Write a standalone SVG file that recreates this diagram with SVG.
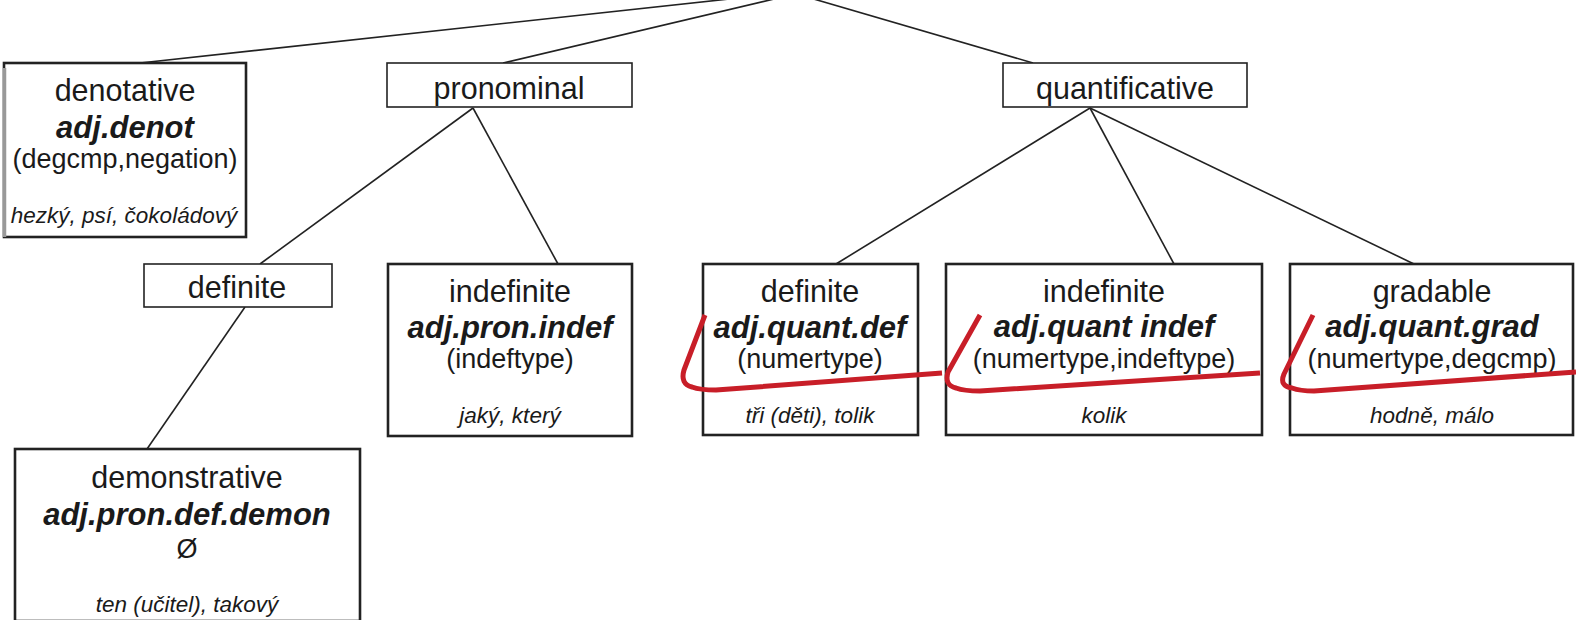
<svg xmlns="http://www.w3.org/2000/svg" width="1576" height="620" viewBox="0 0 1576 620">
<style>
.big{fill:#fff;stroke:#222;stroke-width:2.6}
.small{fill:#fff;stroke:#222;stroke-width:1.6}
.edge{stroke:#222;stroke-width:1.6;fill:none}
text{font-family:"Liberation Sans",Arial,sans-serif;fill:#1a1a1a;text-anchor:middle}
.t{font-size:30.5px}
.b{font-size:31px;font-weight:bold;font-style:italic}
.p{font-size:27px}
.e{font-size:22.5px;font-style:italic}
.red{stroke:#c81e28;stroke-width:5;fill:none;stroke-linecap:butt;stroke-linejoin:round}
</style>
<rect width="1576" height="620" fill="#fff"/>
<g id="connectors">
<line class="edge" x1="140" y1="63" x2="766" y2="-5"/>
<line class="edge" x1="503" y1="63" x2="791" y2="-5"/>
<line class="edge" x1="1033" y1="63" x2="800" y2="-5"/>
<line class="edge" x1="473" y1="108" x2="260" y2="264"/>
<line class="edge" x1="473" y1="108" x2="558" y2="264"/>
<line class="edge" x1="245" y1="307" x2="147" y2="449"/>
<line class="edge" x1="1090" y1="108" x2="836" y2="264"/>
<line class="edge" x1="1090" y1="108" x2="1174" y2="264"/>
<line class="edge" x1="1090" y1="108" x2="1414" y2="264"/>
</g>
<g id="denotative">
<rect class="big" x="4" y="63" width="242" height="174"/>
<line x1="4.5" y1="68" x2="4.5" y2="237" stroke="#999" stroke-width="3.5"/>
<text class="t" x="125" y="101">denotative</text>
<text class="b" x="125" y="138">adj.denot</text>
<text class="p" x="125" y="168">(degcmp,negation)</text>
<text class="e" x="124" y="223">hezký, psí, čokoládový</text>
</g>
<g id="pronominal">
<rect class="small" x="387" y="63" width="245" height="44"/>
<text class="t" x="509" y="99">pronominal</text>
</g>
<g id="quantificative">
<rect class="small" x="1003" y="63" width="244" height="44"/>
<text class="t" x="1125" y="99">quantificative</text>
</g>
<g id="pron-definite">
<rect class="small" x="144" y="264" width="188" height="43"/>
<text class="t" x="237" y="298">definite</text>
</g>
<g id="demonstrative">
<rect class="big" x="15" y="449" width="345" height="172"/>
<text class="t" x="187" y="488">demonstrative</text>
<text class="b" x="187" y="525">adj.pron.def.demon</text>
<text class="p" x="187" y="558">Ø</text>
<text class="e" x="187" y="612">ten (učitel), takový</text>
</g>
<g id="pron-indefinite">
<rect class="big" x="388" y="264" width="244" height="172"/>
<text class="t" x="510" y="302">indefinite</text>
<text class="b" x="510" y="338">adj.pron.indef</text>
<text class="p" x="510" y="368">(indeftype)</text>
<text class="e" x="510" y="423">jaký, který</text>
</g>
<g id="quant-definite">
<rect class="big" x="703" y="264" width="215" height="171"/>
<text class="t" x="810" y="302">definite</text>
<text class="b" x="810" y="338">adj.quant.def</text>
<text class="p" x="810" y="368">(numertype)</text>
<text class="e" x="810" y="423">tři (děti), tolik</text>
</g>
<g id="quant-indefinite">
<rect class="big" x="946" y="264" width="316" height="171"/>
<text class="t" x="1104" y="302">indefinite</text>
<text class="b" x="1104" y="337">adj.quant indef</text>
<text class="p" x="1104" y="368">(numertype,indeftype)</text>
<text class="e" x="1104" y="423">kolik</text>
</g>
<g id="gradable">
<rect class="big" x="1290" y="264" width="283" height="171"/>
<text class="t" x="1432" y="302">gradable</text>
<text class="b" x="1432" y="337">adj.quant.grad</text>
<text class="p" x="1432" y="368">(numertype,degcmp)</text>
<text class="e" x="1432" y="423">hodně, málo</text>
</g>
<g id="marks">
<path class="red" d="M705,315 L684,370 Q680,384 692,387 Q700,390 716,390 L942,373"/>
<path class="red" d="M980,315 L948,372 Q944,385 956,388 Q964,391 980,391 L1260,373"/>
<path class="red" d="M1313,315 L1284,374 Q1279,386 1292,388 Q1300,391 1314,391 L1576,372"/>
</g>
</svg>
